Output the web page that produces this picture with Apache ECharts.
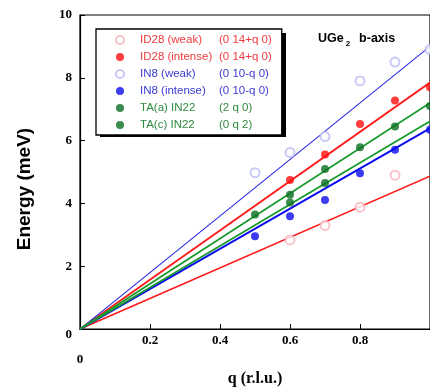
<!DOCTYPE html>
<html>
<head>
<meta charset="utf-8">
<script src="https://cdn.jsdelivr.net/npm/echarts@6/dist/echarts.min.js"></script>
<style>
  html, body { margin: 0; padding: 0; background: #fff; }
  #chart { width: 430px; height: 392px; }
</style>
</head>
<body>
<div id="chart"></div>
<script>
// legend entries
var seriesNames = ['ID28 (weak)', 'ID28 (intense)', 'IN8 (weak)', 'IN8 (intense)', 'TA(a) IN22', 'TA(c) IN22'];
var reflections = ['(0 14+q 0)', '(0 14+q 0)', '(0 10-q 0)', '(0 10-q 0)', '(2 q 0)', '(0 q 2)'];

// measured points: q (r.l.u.) and energy (meV)
var id28WeakQ = [0.6, 0.7, 0.8, 0.9];
var id28WeakE = [2.84, 3.30, 3.88, 4.90];
var id28IntenseQ = [0.6, 0.7, 0.8, 0.9, 1.0];
var id28IntenseE = [4.75, 5.56, 6.53, 7.28, 7.70];
var in8WeakQ = [0.5, 0.6, 0.7, 0.8, 0.9, 1.0];
var in8WeakE = [4.98, 5.62, 6.13, 7.90, 8.50, 8.90];
var in8IntenseQ = [0.5, 0.6, 0.7, 0.8, 0.9, 1.0];
var in8IntenseE = [2.96, 3.59, 4.11, 4.96, 5.71, 6.35];
var taAQ = [0.5, 0.6, 0.7, 0.8, 0.9, 1.0];
var taAE = [3.65, 4.28, 5.10, 5.79, 6.45, 7.10];
var taCQ = [0.6, 0.7];
var taCE = [4.03, 4.65];

// slopes of the linear fits through the origin (meV per r.l.u.)
var fitSlopes = [4.87, 7.85, 9.0, 6.39, 7.2, 6.62];

var xTicks = [0, 0.2, 0.4, 0.6, 0.8, 1];
var yTicks = [0, 2, 4, 6, 8, 10];

var pointQ = [id28WeakQ, id28IntenseQ, in8WeakQ, in8IntenseQ, taAQ, taCQ];
var pointE = [id28WeakE, id28IntenseE, in8WeakE, in8IntenseE, taAE, taCE];
var symbols = ['emptyCircle', 'circle', 'emptyCircle', 'circle', 'circle', 'circle'];
var markerColors = ['#f7b3ba', '#ff0d0d', '#babcf2', '#0a0aee', '#0b6e22', '#0b6e22'];
var lineColors = ['#ff1a1a', '#ff1a1a', '#2626e6', '#0a0aee', '#169a2c', '#169a2c'];
var lineWidths = [1.6, 1.8, 1.1, 2, 1.8, 1.8];
var legendColors = ['#f03a3c', '#f03a3c', '#3b3bd2', '#3b3bd2', '#2f8a3e', '#2f8a3e'];

var chart = echarts.init(document.getElementById('chart'));

var series = [];
seriesNames.forEach(function (name, i) {
  series.push({
    name: name + ' fit',
    type: 'line',
    data: [[xTicks[0], 0], [xTicks[xTicks.length - 1], fitSlopes[i] * xTicks[xTicks.length - 1]]],
    symbol: 'none',
    silent: true,
    z: 2,
    lineStyle: { color: lineColors[i], width: lineWidths[i] }
  });
});
seriesNames.forEach(function (name, i) {
  series.push({
    name: name,
    type: 'scatter',
    data: pointQ[i].map(function (q, k) { return [q, pointE[i][k]]; }),
    symbol: symbols[i],
    symbolSize: symbols[i] === 'emptyCircle' ? 9 : 8,
    z: 3,
    itemStyle: { color: markerColors[i], borderWidth: 0.9 }
  });
});

chart.setOption({
  animation: false,
  backgroundColor: '#fff',
  title: {
    text: '{a|UGe}{s|2}{a|  b-axis}',
    left: 313,
    top: 24,
    textStyle: {
      rich: {
        a: { fontFamily: 'Liberation Sans, Arial', fontWeight: 'bold', fontSize: 12.5, color: '#000' },
        s: { fontFamily: 'Liberation Sans, Arial', fontWeight: 'bold', fontSize: 8, color: '#000', padding: [11, 2, 0, 2] }
      }
    }
  },
  // hard drop shadow behind the legend box
  graphic: [{
    type: 'rect',
    z: 3,
    zlevel: 0,
    shape: { x: 100, y: 33, width: 186, height: 104 },
    style: { fill: '#000' }
  }],
  legend: {
    orient: 'vertical',
    left: 96,
    top: 29,
    z: 5,
    padding: [4, 10, 3, 19],
    itemWidth: 30,
    itemHeight: 8,
    itemGap: 3,
    selectedMode: false,
    backgroundColor: '#fff',
    borderColor: '#000',
    borderWidth: 1.3,
    data: seriesNames.map(function (n, i) {
      return { name: n, textStyle: { color: legendColors[i] } };
    }),
    formatter: function (name) {
      return '{a|' + name + '}{b|' + reflections[seriesNames.indexOf(name)] + '}';
    },
    textStyle: {
      fontFamily: 'Liberation Sans, Arial',
      fontSize: 11.5,
      lineHeight: 14,
      rich: {
        a: { width: 79, fontFamily: 'Liberation Sans, Arial', fontSize: 11.5, lineHeight: 14 },
        b: { fontFamily: 'Liberation Sans, Arial', fontSize: 11.5, lineHeight: 14 }
      }
    }
  },
  grid: {
    left: 80,
    right: -3,
    top: 15,
    bottom: 55,
    show: true,
    borderColor: '#000',
    borderWidth: 1.2
  },
  xAxis: {
    type: 'value',
    min: xTicks[0],
    max: xTicks[xTicks.length - 1],
    interval: 0.2,
    name: 'q (r.l.u.)',
    nameLocation: 'middle',
    nameGap: 38,
    nameTextStyle: { fontFamily: 'Liberation Serif, Times New Roman', fontWeight: 'bold', fontSize: 16, color: '#000' },
    axisLine: { lineStyle: { color: '#000', width: 1.2 } },
    axisTick: { inside: true, length: 5, lineStyle: { color: '#000' } },
    splitLine: { show: false },
    axisLabel: {
      margin: 5,
      color: '#000',
      fontFamily: 'Liberation Serif, Times New Roman',
      fontWeight: 'bold',
      fontSize: 13,
      showMaxLabel: false,
      formatter: function (v) { return v === 0 ? '{z|0}' : String(v); },
      rich: { z: { fontFamily: 'Liberation Serif', fontWeight: 'bold', fontSize: 13, padding: [19, 0, 0, 0] } }
    }
  },
  yAxis: {
    type: 'value',
    min: yTicks[0],
    max: yTicks[yTicks.length - 1],
    interval: 2,
    name: 'Energy (meV)',
    nameLocation: 'middle',
    nameGap: 46,
    nameTextStyle: {
      fontFamily: 'Liberation Sans, Arial', fontWeight: 'bold', fontSize: 19, color: '#000',
      padding: [0, 34, 0, 0]
    },
    axisLine: { lineStyle: { color: '#000', width: 1.2 } },
    axisTick: { inside: true, length: 5, lineStyle: { color: '#000' } },
    splitLine: { show: false },
    axisLabel: {
      margin: 8,
      color: '#000',
      fontFamily: 'Liberation Serif, Times New Roman',
      fontWeight: 'bold',
      fontSize: 13,
      formatter: function (v) { return v === 0 ? '{z|0}' : String(v); },
      rich: {
        z: { fontFamily: 'Liberation Serif', fontWeight: 'bold', fontSize: 13, lineHeight: 13, padding: [12, 0, 0, 0] }
      }
    }
  },
  series: series
});
</script>
</body>
</html>
